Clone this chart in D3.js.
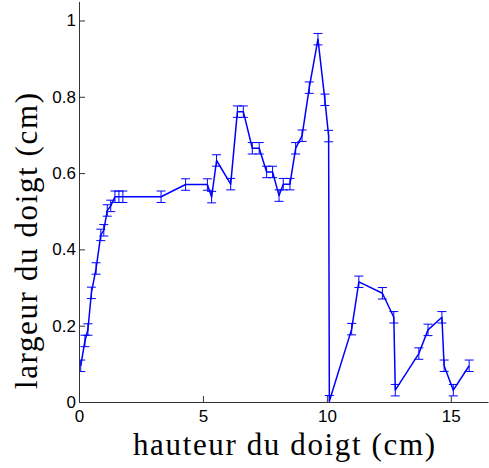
<!DOCTYPE html>
<html><head><meta charset="utf-8">
<script src="https://cdn.jsdelivr.net/npm/d3@7"></script>
<style>body{margin:0;background:#fff}svg{display:block}</style>
</head><body>
<svg id="c" width="489" height="468"></svg>
<script>
const xs = [0.07,0.24,0.36,0.50,0.69,0.88,1.00,1.14,1.28,1.45,1.61,1.77,3.31,4.30,5.18,5.35,5.55,6.12,6.39,6.63,6.99,7.27,7.57,7.81,8.07,8.24,8.51,8.74,9.00,9.29,9.64,9.92,10.07,10.10,11.00,11.29,12.24,12.70,12.76,13.71,14.08,14.64,14.73,15.10,15.74];
const ys = [0.095,0.160,0.190,0.286,0.350,0.438,0.450,0.502,0.514,0.538,0.538,0.538,0.538,0.570,0.570,0.537,0.633,0.571,0.761,0.761,0.665,0.665,0.603,0.603,0.541,0.571,0.571,0.665,0.698,0.824,0.951,0.792,0.697,0.002,0.191,0.315,0.285,0.222,0.031,0.127,0.189,0.222,0.095,0.031,0.095];
const errs = [0.015,0.015,0.015,0.015,0.015,0.015,0.015,0.015,0.015,0.015,0.015,0.015,0.015,0.015,0.015,0.015,0.015,0.015,0.015,0.015,0.015,0.015,0.015,0.015,0.015,0.015,0.015,0.015,0.015,0.015,0.015,0.015,0.015,0.015,0.015,0.015,0.015,0.015,0.015,0.015,0.015,0.015,0.015,0.015,0.015];
const xTicks = [0,5,10,15];
const yTicks = [0,0.2,0.4,0.6,0.8,1];
const yTickLabels = ["0","0.2","0.4","0.6","0.8","1"];
const xLabel = "hauteur du doigt (cm)";
const yLabel = "largeur du doigt (cm)";

const svg = d3.select("#c");
const x = d3.scaleLinear().domain([0,16.5]).range([79,488]);
const y = d3.scaleLinear().domain([0,1.05]).range([402,1.4]);
const blue = "#0000ff";

svg.append("clipPath").attr("id","clip").append("rect")
  .attr("x",79).attr("y",0).attr("width",410).attr("height",402);

const data = xs.map((v,i)=>({x:v,y:ys[i],e:errs[i]}));
const g = svg.append("g").attr("clip-path","url(#clip)");
const cw = 4.5;
data.forEach(d=>{
  const px = x(d.x), y1 = y(d.y-d.e), y2 = y(d.y+d.e);
  g.append("line").attr("x1",px).attr("x2",px).attr("y1",y1).attr("y2",y2)
    .attr("stroke",blue).attr("stroke-width",1);
  [y1,y2].forEach(yy=>g.append("line").attr("x1",px-cw).attr("x2",px+cw)
    .attr("y1",yy).attr("y2",yy).attr("stroke",blue).attr("stroke-width",1));
});
g.append("path").datum(data)
  .attr("d",d3.line().x(d=>x(d.x)).y(d=>y(d.y)))
  .attr("fill","none").attr("stroke",blue).attr("stroke-width",1.5).attr("stroke-linejoin","round");

const font = "'Liberation Sans', Arial, Helvetica, sans-serif";
const xAxis = svg.append("g").attr("transform","translate(0,402)")
  .call(d3.axisBottom(x).tickValues(xTicks).tickFormat(d3.format("d")).tickSizeInner(-6).tickSizeOuter(0).tickPadding(10));
const yAxis = svg.append("g").attr("transform","translate(79,0)")
  .call(d3.axisLeft(y).tickValues(yTicks).tickFormat((d,i)=>yTickLabels[i]).tickSizeInner(-6).tickSizeOuter(0).tickPadding(3));
[xAxis,yAxis].forEach(a=>{
  a.selectAll("path").attr("stroke","#333").attr("stroke-width",1);
  a.selectAll("line").attr("stroke","#333");
  a.selectAll("text").attr("font-family",font).attr("font-size",17).attr("fill","#000");
});
xAxis.selectAll("text").attr("dy","0.6em");

const serif = "'Liberation Serif','Times New Roman',serif";
svg.append("text").attr("x",284).attr("y",455).attr("text-anchor","middle")
  .attr("font-family",serif).attr("font-size",31)
  .attr("textLength",302).attr("lengthAdjust","spacing")
  .text(xLabel);
svg.append("text").attr("transform","translate(37,241) rotate(-90)").attr("text-anchor","middle")
  .attr("font-family",serif).attr("font-size",31)
  .attr("textLength",296).attr("lengthAdjust","spacing")
  .text(yLabel);
</script>
</body></html>
